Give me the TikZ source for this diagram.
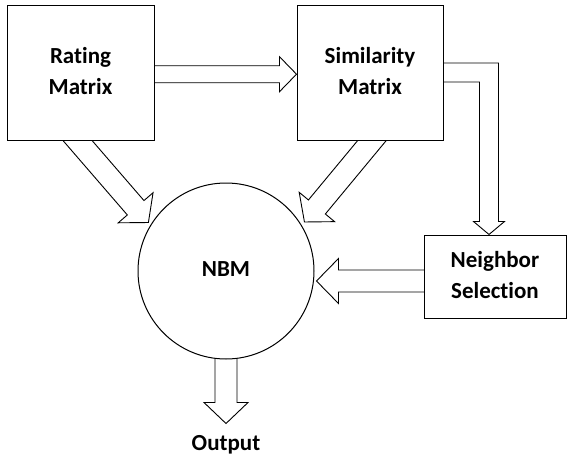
\documentclass[tikz,border=0pt]{standalone}
\usepackage{fontspec}
\setmainfont{Carlito}[Ligatures=NoCommon]
\usetikzlibrary{calc}
\pgfdeclarelayer{bg}
\pgfsetlayers{bg,main}
\newcommand\blockarr[5]{%
  \coordinate (bbS) at (#1);
  \coordinate (bbT) at (#2);
  \coordinate (bbB) at ($(bbT)!#5!(bbS)$);
  \draw[blk] ($(bbS)!#3!90:(bbT)$) -- ($(bbB)!#3!-90:(bbS)$) -- ($(bbB)!#4!-90:(bbS)$)
    -- (bbT) -- ($(bbB)!#4!90:(bbS)$) -- ($(bbB)!#3!90:(bbS)$) -- ($(bbS)!#3!-90:(bbT)$);
}
\newcommand\twol[2]{\raisebox{6pt}{\begin{tabular}{@{}c@{}}#1\\#2\end{tabular}}}
\begin{document}
\begin{tikzpicture}[x=1pt,y=-1pt,
  box/.style={draw,line width=1pt,fill=white,inner sep=0pt,align=center,font=\bfseries\fontsize{23}{31}\selectfont},
  blk/.style={draw,line width=0.9pt,fill=white,line join=miter}]
\useasboundingbox (0,0) rectangle (571,461);
\node[box,minimum width=147pt,minimum height=135pt] (rm) at (80.5,72.5) {\twol{Rating}{Matrix}};
\node[box,minimum width=146pt,minimum height=135pt] (sm) at (370,72.5) {\twol{Similarity}{Matrix}};
\node[box,minimum width=142pt,minimum height=83pt] (ns) at (495,276.5) {\twol{Neighbor}{Selection}};
\node[box,circle,minimum size=176pt] (nbm) at (226,271) {\raisebox{3pt}{NBM}};
\node[font=\bfseries\fontsize{23}{31}\selectfont,inner sep=0pt] (out) at (226,445) {Output};
\begin{pgfonlayer}{bg}
  % Rating -> Similarity
  \blockarr{$(rm.east)+(-5,1.7)$}{$(sm.west)+(0,1.7)$}{8.5pt}{17.5pt}{17pt}
  % Rating -> NBM
  \coordinate (s1) at ($(rm.south)+(-3,0)$);
  \coordinate (t1) at ($(nbm.148)!-3pt!(nbm.center)$);
  \blockarr{$(t1)!1.3!(s1)$}{t1}{11pt}{23pt}{19.5pt}
  % Similarity -> NBM
  \coordinate (s2) at ($(sm.south)+(2,0)$);
  \coordinate (t2) at ($(nbm.32)!-4pt!(nbm.center)$);
  \blockarr{$(t2)!1.3!(s2)$}{t2}{11pt}{23pt}{19.5pt}
  % Neighbor -> NBM
  \coordinate (t3) at ($(ns.west)+(-107,4.5)$);
  \blockarr{$(ns.west)+(5,4.5)$}{t3}{11pt}{22.5pt}{22pt}
  % NBM -> Output
  \coordinate (t4) at ($(nbm.south)+(0,64)$);
  \blockarr{nbm.center}{t4}{11pt}{22pt}{21pt}
  % Similarity -> Neighbor (elbow)
  \coordinate (c) at ($(sm.east)+(45.5,0)$);
  \coordinate (t5) at (c |- ns.north);
  \draw[blk] ($(sm.east)+(-5,-9.5)$) -- ($(c)+(9.5,-9.5)$) -- ($(t5)+(9.5,-13)$) -- ($(t5)+(15.5,-13)$)
    -- (t5) -- ($(t5)+(-15.5,-13)$) -- ($(t5)+(-9.5,-13)$) -- ($(c)+(-9.5,9.5)$) -- ($(sm.east)+(-5,9.5)$);
\end{pgfonlayer}
\end{tikzpicture}
\end{document}
